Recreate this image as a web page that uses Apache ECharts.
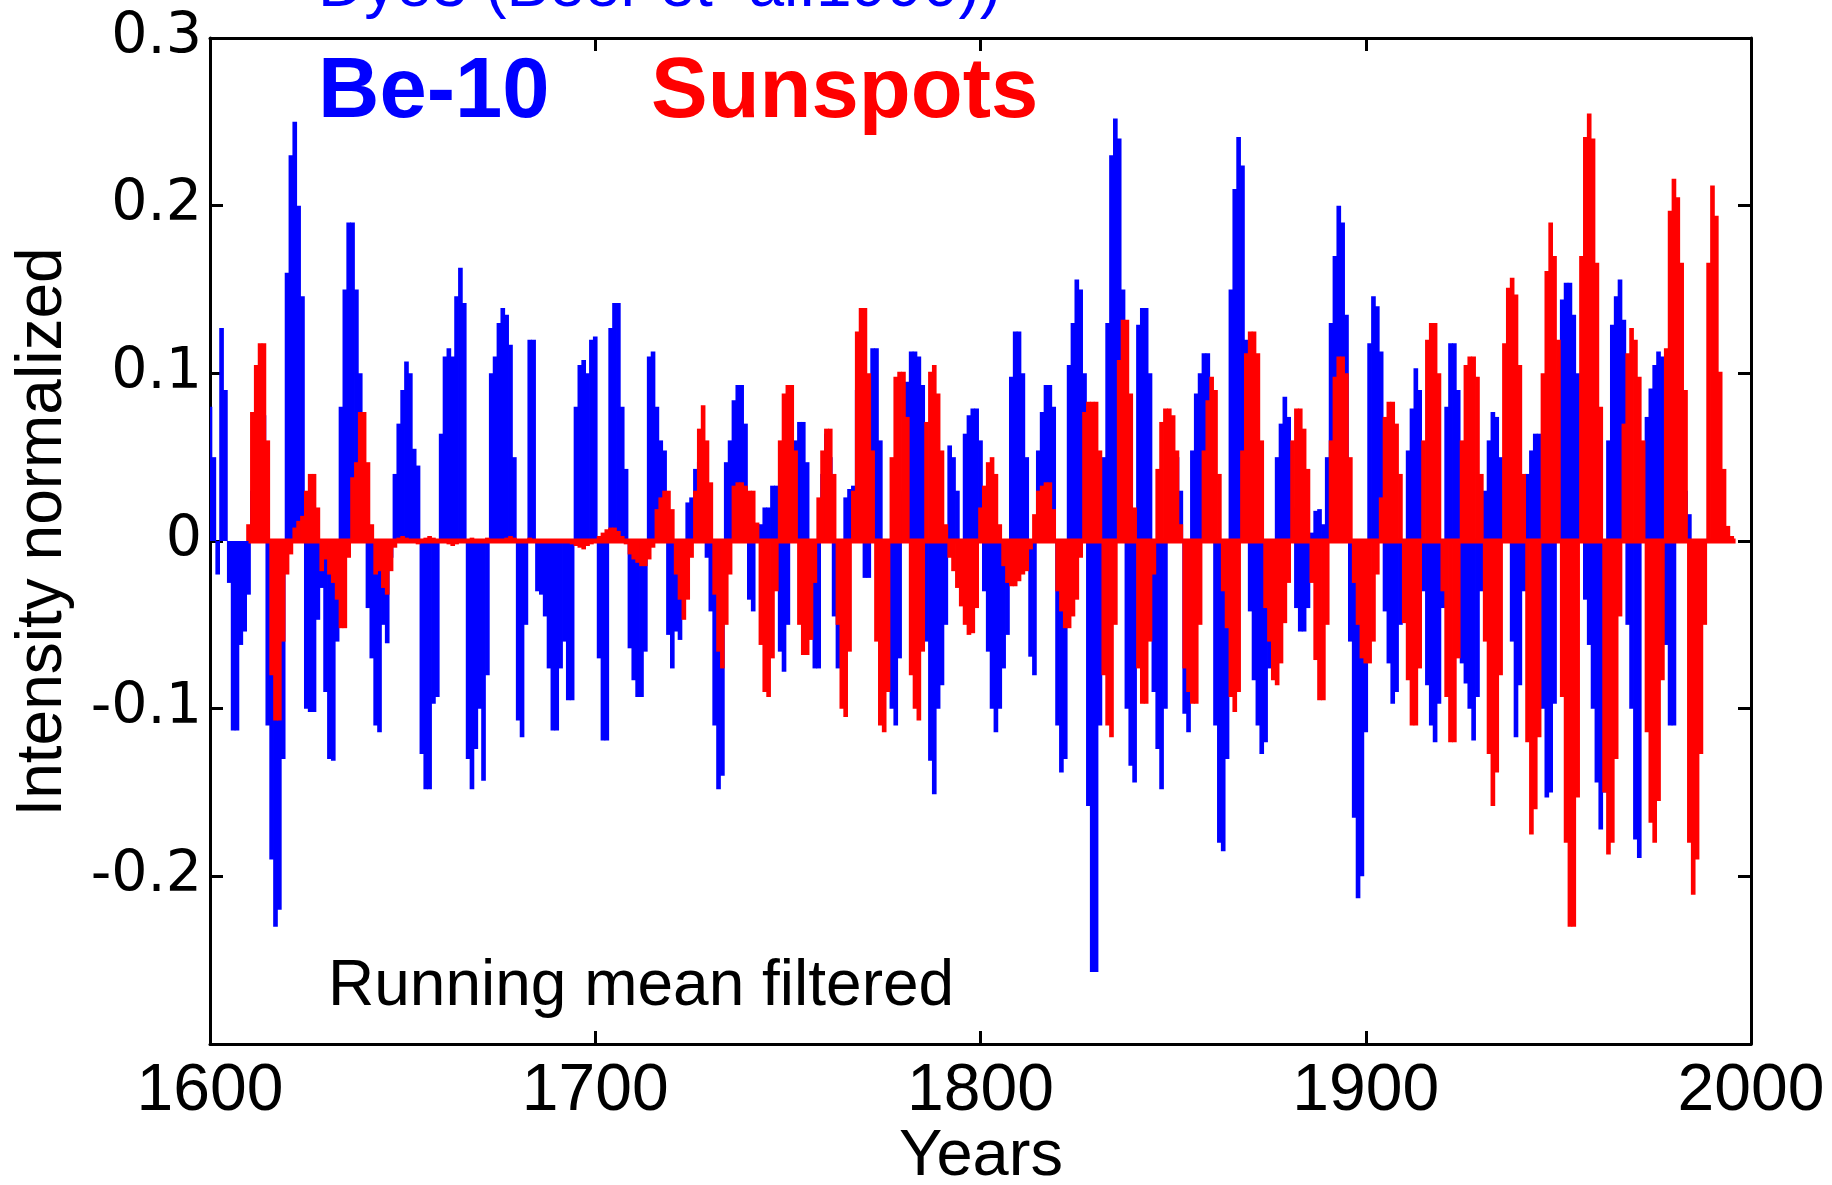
<!DOCTYPE html>
<html>
<head>
<meta charset="utf-8">
<script src="https://cdn.jsdelivr.net/npm/echarts@6/dist/echarts.min.js"></script>
<style>
html,body{margin:0;padding:0;background:#fff;}
#chart{width:1832px;height:1185px;}
</style>
</head>
<body>
<div id="chart"></div>
<script>
// ---- Data ----
const yearTicks = [1600, 1700, 1800, 1900, 2000];
const valueTicks = [-0.3, -0.2, -0.1, 0, 0.1, 0.2, 0.3];

// Be-10 (Dye3), yearly, starting 1600
const be10StartYear = 1600;
const be10Values = [
  0.08, 0.05, -0.02, 0.127, 0.09, -0.025, -0.113, -0.113, -0.062, -0.054,          // 1600-1609
  -0.032, 0.03, 0.06, 0.079, 0.075, -0.11, -0.19, -0.23, -0.22, -0.13,             // 1610-1619
  0.16, 0.23, 0.25, 0.2, 0.146, -0.1, -0.102, -0.102, -0.047, -0.028,              // 1620-1629
  -0.09, -0.13, -0.131, -0.06, 0.08, 0.15, 0.19, 0.19, 0.15, 0.1,                  // 1630-1639
  0.03, -0.04, -0.07, -0.11, -0.114, -0.05, -0.061, -0.01, 0.04, 0.07,             // 1640-1649
  0.09, 0.107, 0.1, 0.055, 0.045, -0.127, -0.148, -0.148, -0.097, -0.093,          // 1650-1659
  0.064, 0.11, 0.115, 0.11, 0.146, 0.163, 0.142, -0.13, -0.148, -0.124,            // 1660-1669
  -0.1, -0.143, -0.08, 0.1, 0.11, 0.13, 0.139, 0.135, 0.117, 0.05,                 // 1670-1679
  -0.107, -0.117, -0.05, 0.12, 0.12, -0.03, -0.032, -0.045, -0.076, -0.113,        // 1680-1689
  -0.113, -0.076, -0.06, -0.095, -0.095, 0.08, 0.105, 0.108, 0.1, 0.12,            // 1690-1699
  0.122, -0.07, -0.119, -0.119, 0.127, 0.142, 0.142, 0.08, 0.043, -0.064,          // 1700-1709
  -0.083, -0.093, -0.093, -0.066, 0.11, 0.113, 0.08, 0.06, 0.054, -0.056,          // 1710-1719
  -0.076, -0.054, -0.059, -0.02, 0.023, 0.026, 0.043, 0.047, 0.02, -0.01,          // 1720-1729
  -0.042, -0.11, -0.148, -0.14, 0.047, 0.06, 0.084, 0.093, 0.093, 0.07,            // 1730-1739
  -0.035, -0.042, 0.01, 0.01, 0.02, 0.02, 0.033, 0.033, -0.066, -0.078,            // 1740-1749
  -0.05, 0.04, 0.06, 0.071, 0.071, 0.047, -0.035, -0.076, -0.076, 0.04,            // 1750-1759
  0.064, 0.05, -0.045, -0.076, -0.05, 0.026, 0.031, 0.033, 0.09, 0.124,            // 1760-1769
  -0.022, -0.022, 0.115, 0.115, 0.06, -0.04, -0.076, -0.1, -0.11, -0.07,           // 1770-1779
  0.03, 0.095, 0.113, 0.113, 0.11, 0.093, -0.06, -0.131, -0.151, -0.1,             // 1780-1789
  -0.086, -0.05, 0.057, 0.05, 0.03, -0.018, 0.064, 0.075, 0.079, 0.079,            // 1790-1799
  0.06, -0.03, -0.066, -0.1, -0.114, -0.1, -0.076, -0.056, 0.098, 0.125,           // 1800-1809
  0.125, 0.1, 0.05, -0.069, -0.08, 0.054, 0.077, 0.093, 0.093, 0.08,               // 1810-1819
  -0.11, -0.138, -0.13, 0.105, 0.13, 0.156, 0.15, 0.1, -0.158, -0.257,             // 1820-1829
  -0.257, -0.11, 0.05, 0.13, 0.23, 0.252, 0.24, 0.15, -0.1, -0.134,                // 1830-1839
  -0.144, 0.129, 0.139, 0.139, 0.1, -0.09, -0.124, -0.148, -0.1, 0.03,             // 1840-1849
  0.05, 0.05, 0.03, -0.103, -0.114, 0.054, 0.088, 0.1, 0.112, 0.112,               // 1850-1859
  0.05, -0.11, -0.18, -0.185, -0.13, 0.15, 0.21, 0.241, 0.224, 0.12,               // 1860-1869
  -0.042, -0.083, -0.11, -0.127, -0.12, -0.076, -0.03, 0.05, 0.07, 0.086,          // 1870-1879
  0.074, 0.02, -0.04, -0.054, -0.054, -0.04, 0.005, 0.018, 0.019, 0.01,            // 1880-1889
  0.05, 0.13, 0.17, 0.2, 0.19, 0.135, -0.06, -0.165, -0.213, -0.2,                 // 1890-1899
  -0.114, 0.118, 0.146, 0.14, 0.113, -0.042, -0.073, -0.097, -0.09, -0.05,         // 1900-1909
  -0.01, 0.054, 0.079, 0.103, 0.09, -0.03, -0.086, -0.11, -0.12, -0.097,           // 1910-1919
  -0.04, 0.08, 0.118, 0.118, 0.09, -0.073, -0.085, -0.1, -0.119, -0.093,           // 1920-1929
  -0.03, 0.03, 0.06, 0.077, 0.074, 0.05, 0.03, 0.088, -0.06, -0.117,               // 1930-1939
  -0.086, -0.03, 0.04, 0.054, 0.064, 0.064, -0.1, -0.153, -0.15, -0.097,           // 1940-1949
  0.1, 0.144, 0.154, 0.154, 0.135, 0.1, 0.05, -0.035, -0.062, -0.1,                // 1950-1959
  -0.144, -0.172, -0.15, 0.06, 0.129, 0.146, 0.156, 0.132, -0.05, -0.1,            // 1960-1969
  -0.178, -0.189, 0.03, 0.074, 0.091, 0.105, 0.113, 0.11, -0.062, -0.11,           // 1970-1979
  -0.11, 0.06, 0.067, 0.03, 0.016                                                   // 1980-1984
];

// Sunspots, yearly, starting 1610
const sunspotStartYear = 1610;
const sunspotValues = [
  0.01, 0.077, 0.105, 0.118, 0.118, 0.06, -0.08, -0.107, -0.107, -0.06,            // 1610-1619
  -0.02, -0.008, 0.008, 0.012, 0.015, 0.03, 0.04, 0.04, 0.02, -0.018,              // 1620-1629
  -0.011, -0.02, -0.025, -0.035, -0.052, -0.052, -0.01, 0.038, 0.047, 0.077,       // 1630-1639
  0.077, 0.047, 0.01, -0.02, -0.018, -0.028, -0.032, -0.018, -0.004, 0.002,        // 1640-1649
  0.003, 0.002, 0.001, 0.001, -0.002, 0.001, 0.002, 0.003, 0.002, 0.001,           // 1650-1659
  0.001, -0.001, -0.002, -0.003, -0.002, -0.001, 0.001, 0.001, 0.002, 0.001,       // 1660-1669
  0.001, 0.001, 0.002, 0.001, 0.001, -0.001, 0.001, 0.002, 0.003, 0.002,           // 1670-1679
  0.001, -0.001, 0.001, 0.002, 0.001, 0.001, -0.001, 0.001, 0.001, 0.001,          // 1680-1689
  -0.001, 0.001, 0.001, 0.001, -0.002, -0.003, -0.004, -0.005, -0.003, -0.002,     // 1690-1699
  0.001, 0.003, 0.005, 0.007, 0.008, 0.008, 0.006, 0.003, -0.002, -0.008,          // 1700-1709
  -0.011, -0.013, -0.015, -0.015, -0.011, -0.004, 0.019, 0.026, 0.03, 0.03,        // 1710-1719
  0.019, -0.02, -0.035, -0.047, -0.035, -0.01, 0.03, 0.067, 0.081, 0.06,           // 1720-1729
  0.035, -0.032, -0.066, -0.076, -0.05, -0.02, 0.033, 0.035, 0.035, 0.033,         // 1730-1739
  0.03, 0.03, 0.011, -0.062, -0.09, -0.093, -0.07, -0.03, 0.06, 0.088,             // 1740-1749
  0.093, 0.093, 0.054, -0.05, -0.068, -0.068, -0.059, -0.025, 0.026, 0.054,        // 1750-1759
  0.067, 0.067, 0.04, -0.05, -0.1, -0.105, -0.066, 0.03, 0.125, 0.139,             // 1760-1769
  0.139, 0.1, 0.054, -0.06, -0.11, -0.114, -0.09, 0.05, 0.098, 0.101,              // 1770-1779
  0.101, 0.074, -0.08, -0.1, -0.107, -0.066, 0.071, 0.101, 0.105, 0.088,           // 1780-1789
  0.054, 0.01, -0.01, -0.018, -0.028, -0.039, -0.05, -0.056, -0.055, -0.04,        // 1790-1799
  0.02, 0.033, 0.047, 0.05, 0.04, 0.01, -0.015, -0.025, -0.027, -0.027,            // 1800-1809
  -0.024, -0.02, -0.018, -0.005, 0.016, 0.03, 0.033, 0.035, 0.035, 0.019,          // 1810-1819
  -0.03, -0.042, -0.052, -0.052, -0.045, -0.035, -0.01, 0.077, 0.083, 0.083,       // 1820-1829
  0.083, 0.054, -0.08, -0.11, -0.117, -0.05, 0.108, 0.132, 0.132, 0.088,           // 1830-1839
  0.02, -0.076, -0.097, -0.097, -0.06, -0.02, 0.043, 0.071, 0.079, 0.079,          // 1840-1849
  0.075, 0.054, 0.01, -0.076, -0.09, -0.097, -0.097, -0.05, 0.054, 0.084,          // 1850-1859
  0.098, 0.09, 0.04, -0.03, -0.052, -0.093, -0.102, -0.09, 0.054, 0.112,           // 1860-1869
  0.125, 0.125, 0.112, 0.06, -0.04, -0.06, -0.083, -0.086, -0.073, -0.049,         // 1870-1879
  -0.025, 0.06, 0.079, 0.079, 0.067, 0.043, -0.025, -0.071, -0.095, -0.095,        // 1880-1889
  -0.05, 0.06, 0.098, 0.11, 0.11, 0.1, 0.05, -0.025, -0.05, -0.07,                 // 1890-1899
  -0.073, -0.073, -0.06, -0.02, 0.026, 0.074, 0.083, 0.083, 0.07, 0.04,            // 1900-1909
  -0.049, -0.083, -0.11, -0.11, -0.076, 0.06, 0.12, 0.13, 0.13, 0.1,               // 1910-1919
  -0.03, -0.093, -0.12, -0.12, -0.07, 0.06, 0.105, 0.11, 0.11, 0.098,              // 1920-1929
  0.04, -0.06, -0.127, -0.158, -0.138, -0.08, 0.118, 0.151, 0.157, 0.147,          // 1930-1939
  0.105, 0.04, -0.12, -0.175, -0.16, -0.117, 0.1, 0.161, 0.19, 0.17,               // 1940-1949
  0.12, -0.093, -0.18, -0.23, -0.23, -0.153, 0.17, 0.241, 0.255, 0.24,             // 1950-1959
  0.166, 0.08, -0.15, -0.187, -0.18, -0.13, -0.045, 0.07, 0.112, 0.127,            // 1960-1969
  0.12, 0.098, 0.06, -0.114, -0.168, -0.18, -0.155, -0.083, 0.115, 0.197,          // 1970-1979
  0.216, 0.205, 0.166, 0.09, -0.18, -0.211, -0.19, -0.127, -0.05, 0.166,           // 1980-1989
  0.212, 0.194, 0.101, 0.043, 0.009, 0.003                                          // 1990-1995
];

const seriesNames = ['Be-10', 'Sunspots'];
const titleText = 'Dye3 (Beer et  al.1990))';
const noteText = 'Running mean filtered';
const xAxisTitle = 'Years';
const yAxisTitle = 'Intensity normalized';

// ---- Build pairs for the library ----
const be10Data = be10Values.map((v, i) => [be10StartYear + i, v]);
const sunspotData = sunspotValues.map((v, i) => [sunspotStartYear + i, v]);
const sunspotEndYear = sunspotStartYear + sunspotValues.length - 1;
const sunspotBaseline = [[sunspotStartYear, 0], [sunspotEndYear + 1, 0]];

// Yearly bar from the zero line to the value, one year wide, placed with the axes' own scales
function yearlyBar(color) {
  return function (params, api) {
    const year = api.value(0);
    const val = api.value(1);
    const a = api.coord([year - 0.5, 0]);
    const b = api.coord([year + 0.5, val]);
    return {
      type: 'rect',
      shape: {x: a[0] - 0.4, y: Math.min(a[1], b[1]), width: (b[0] - a[0]) + 0.8, height: Math.abs(b[1] - a[1])},
      style: {fill: color},
      silent: true
    };
  };
}

const chart = echarts.init(document.getElementById('chart'), null, {renderer: 'canvas'});

const axisLineStyle = {color: '#000', width: 3};
const tickStyle = {show: true, inside: true, length: 13, lineStyle: {color: '#000', width: 3}};
const xMin = yearTicks[0], xMax = yearTicks[yearTicks.length - 1], xStep = yearTicks[1] - yearTicks[0];
const yMin = valueTicks[0], yMax = valueTicks[valueTicks.length - 1];

const option = {
  animation: false,
  backgroundColor: '#fff',
  grid: {left: 210, right: 81, top: 38, bottom: 141, containLabel: false, outerBoundsMode: 'none'},
  xAxis: [
    {
      type: 'value', position: 'bottom', min: xMin, max: xMax, interval: xStep,
      axisLine: {show: true, onZero: false, lineStyle: axisLineStyle},
      axisTick: tickStyle,
      axisLabel: {
        show: true, margin: 15, color: '#000', fontSize: 66, fontFamily: 'Liberation Sans',
        showMinLabel: true, showMaxLabel: true, hideOverlap: false,
        formatter: v => String(v)
      },
      splitLine: {show: false}
    },
    {
      type: 'value', position: 'top', min: xMin, max: xMax, interval: xStep,
      axisLine: {show: true, onZero: false, lineStyle: axisLineStyle},
      axisTick: tickStyle,
      axisLabel: {show: false},
      splitLine: {show: false}
    }
  ],
  yAxis: [
    {
      type: 'value', position: 'left', min: yMin, max: yMax, interval: 0.1,
      axisLine: {show: true, onZero: false, lineStyle: axisLineStyle},
      axisTick: tickStyle,
      axisLabel: {
        show: true, margin: 8, color: '#000', fontSize: 57, fontFamily: 'DejaVu Sans',
        showMinLabel: true, showMaxLabel: true,
        formatter: v => (v < yMin + 0.05 ? '' : String(+v.toFixed(1)))
      },
      splitLine: {show: false}
    },
    {
      type: 'value', position: 'right', min: yMin, max: yMax, interval: 0.1,
      axisLine: {show: true, onZero: false, lineStyle: axisLineStyle},
      axisTick: tickStyle,
      axisLabel: {show: false},
      splitLine: {show: false}
    }
  ],
  series: [
    {
      name: seriesNames[0], type: 'custom', xAxisIndex: 0, yAxisIndex: 0,
      data: be10Data, encode: {x: 0, y: 1}, renderItem: yearlyBar('#0000ff'),
      clip: true, silent: true, z: 2
    },
    {
      name: seriesNames[1] + ' baseline', type: 'line', xAxisIndex: 0, yAxisIndex: 0,
      data: sunspotBaseline, showSymbol: false, symbol: 'none',
      lineStyle: {color: '#ff0000', width: 5}, silent: true, z: 3
    },
    {
      name: seriesNames[1], type: 'custom', xAxisIndex: 0, yAxisIndex: 0,
      data: sunspotData, encode: {x: 0, y: 1}, renderItem: yearlyBar('#ff0000'),
      clip: true, silent: true, z: 4
    }
  ],
  graphic: [
    {type: 'text', x: 318, y: -12, silent: true,
     style: {text: titleText, fill: '#0000ff', fontSize: 64, fontFamily: 'Liberation Sans',
             textAlign: 'left', align: 'left', textVerticalAlign: 'middle', verticalAlign: 'middle'}},
    {type: 'text', x: 318, y: 94, silent: true,
     style: {text: seriesNames[0], fill: '#0000ff', fontSize: 85, fontWeight: 'bold', fontFamily: 'Liberation Sans',
             textAlign: 'left', align: 'left', textVerticalAlign: 'middle', verticalAlign: 'middle'}},
    {type: 'text', x: 651, y: 94, silent: true,
     style: {text: seriesNames[1], fill: '#ff0000', fontSize: 85, fontWeight: 'bold', fontFamily: 'Liberation Sans',
             textAlign: 'left', align: 'left', textVerticalAlign: 'middle', verticalAlign: 'middle'}},
    {type: 'text', x: 328, y: 987, silent: true,
     style: {text: noteText, fill: '#000', fontSize: 64, fontFamily: 'Liberation Sans',
             textAlign: 'left', align: 'left', textVerticalAlign: 'middle', verticalAlign: 'middle'}},
    {type: 'text', x: 43, y: 532, rotation: Math.PI / 2, silent: true,
     style: {text: yAxisTitle, fill: '#000', fontSize: 64, fontFamily: 'Liberation Sans',
             textAlign: 'center', align: 'center', textVerticalAlign: 'middle', verticalAlign: 'middle'}},
    {type: 'text', x: 981, y: 1157, silent: true,
     style: {text: xAxisTitle, fill: '#000', fontSize: 65, fontFamily: 'Liberation Sans',
             textAlign: 'center', align: 'center', textVerticalAlign: 'middle', verticalAlign: 'middle'}}
  ]
};

chart.setOption(option);
</script>
</body>
</html>
